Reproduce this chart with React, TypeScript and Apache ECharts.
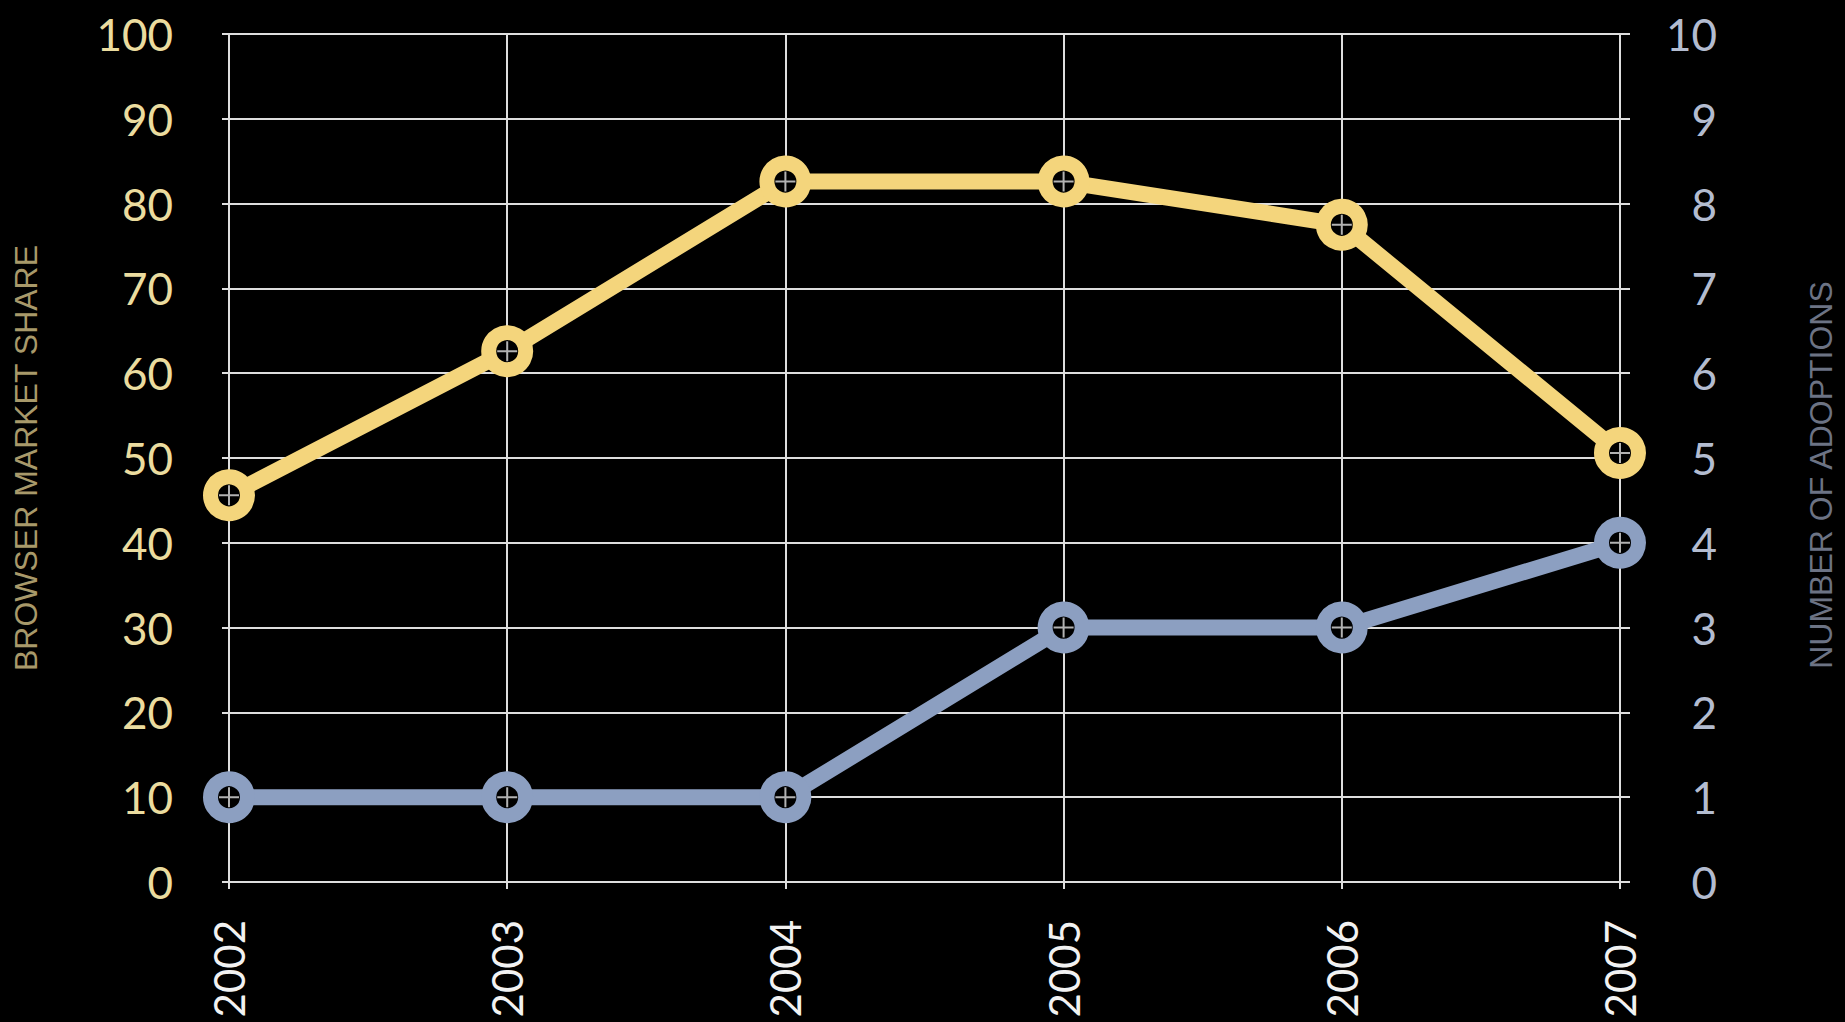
import React, { useEffect, useRef } from "react";
import * as echarts from "echarts";

const years = ["2002", "2003", "2004", "2005", "2006", "2007"];
const marketShare = [45.6, 62.6, 82.6, 82.6, 77.5, 50.6];
const adoptions = [1, 1, 1, 3, 3, 4];
const leftAxisName = "BROWSER MARKET SHARE";
const rightAxisName = "NUMBER OF ADOPTIONS";

const YELLOW = "#f4d57c";
const BLUE = "#8c9fc1";
const GRID = "#dedede";
const CROSS = "path://M0 -10 L0 10 M-10 0 L10 0";

export default function App() {
  const ref = useRef<HTMLDivElement>(null);
  useEffect(() => {
    if (!ref.current) return;
    const chart = echarts.init(ref.current, null, { renderer: "svg" });
    const lineSeries = (name: string, data: number[], color: string, axis: number) => ({
      name,
      type: "line",
      yAxisIndex: axis,
      data,
      symbol: "circle",
      symbolSize: 37,
      z: 3,
      lineStyle: { color, width: 16 },
      itemStyle: { color: "#000", borderColor: color, borderWidth: 15 },
    });
    const crossSeries = (data: number[], axis: number) => ({
      type: "scatter",
      yAxisIndex: axis,
      data,
      symbol: CROSS,
      symbolSize: 20,
      silent: true,
      z: 4,
      itemStyle: { color: "rgba(0,0,0,0)", borderColor: GRID, borderWidth: 2 },
    });
    chart.setOption({
      animation: false,
      backgroundColor: "#000",
      grid: { left: 229, right: 224, top: 34, bottom: 140 },
      xAxis: {
        type: "category",
        data: years,
        boundaryGap: false,
        axisLine: { lineStyle: { color: GRID, width: 2 } },
        axisTick: { length: 7, lineStyle: { color: GRID, width: 2 } },
        splitLine: { show: true, lineStyle: { color: GRID, width: 2 } },
        axisLabel: {
          rotate: 90,
          margin: 38,
          color: "#f2f2f2",
          fontFamily: "Lato",
          fontSize: 42,
        },
      },
      yAxis: [
        {
          type: "value",
          min: 0,
          max: 100,
          interval: 10,
          position: "left",
          name: leftAxisName,
          nameLocation: "middle",
          nameRotate: 90,
          nameGap: 187,
          nameTextStyle: {
            color: "#a8996a",
            fontFamily: "Liberation Sans",
            fontSize: 32,
          },
          axisLine: { show: true, lineStyle: { color: GRID, width: 2 } },
          axisTick: { show: true, length: 7, lineStyle: { color: GRID, width: 2 } },
          splitLine: { show: true, lineStyle: { color: GRID, width: 2 } },
          axisLabel: {
            margin: 56,
            color: "#ebdc9f",
            fontFamily: "Lato",
            fontSize: 44,
            padding: [0, 0, 10, 0],
          },
        },
        {
          type: "value",
          min: 0,
          max: 10,
          interval: 1,
          position: "right",
          name: rightAxisName,
          nameLocation: "middle",
          nameRotate: 90,
          nameGap: 185,
          nameTextStyle: {
            color: "#6c7384",
            fontFamily: "Liberation Sans",
            fontSize: 32,
            padding: [0, 34, 0, 0],
          },
          axisLine: { show: true, lineStyle: { color: GRID, width: 2 } },
          axisTick: { show: true, length: 10, lineStyle: { color: GRID, width: 2 } },
          splitLine: { show: false },
          axisLabel: {
            margin: 97,
            align: "right",
            color: "#b3bcd0",
            fontFamily: "Lato",
            fontSize: 44,
            padding: [0, 0, 10, 0],
          },
        },
      ],
      series: [
        lineSeries("Browser market share", marketShare, YELLOW, 0),
        lineSeries("Number of adoptions", adoptions, BLUE, 1),
        crossSeries(marketShare, 0),
        crossSeries(adoptions, 1),
      ],
    });
    return () => chart.dispose();
  }, []);
  return (
    <div
      ref={ref}
      style={{ position: "absolute", left: 0, top: 0, width: 1845, height: 1022 }}
    />
  );
}
